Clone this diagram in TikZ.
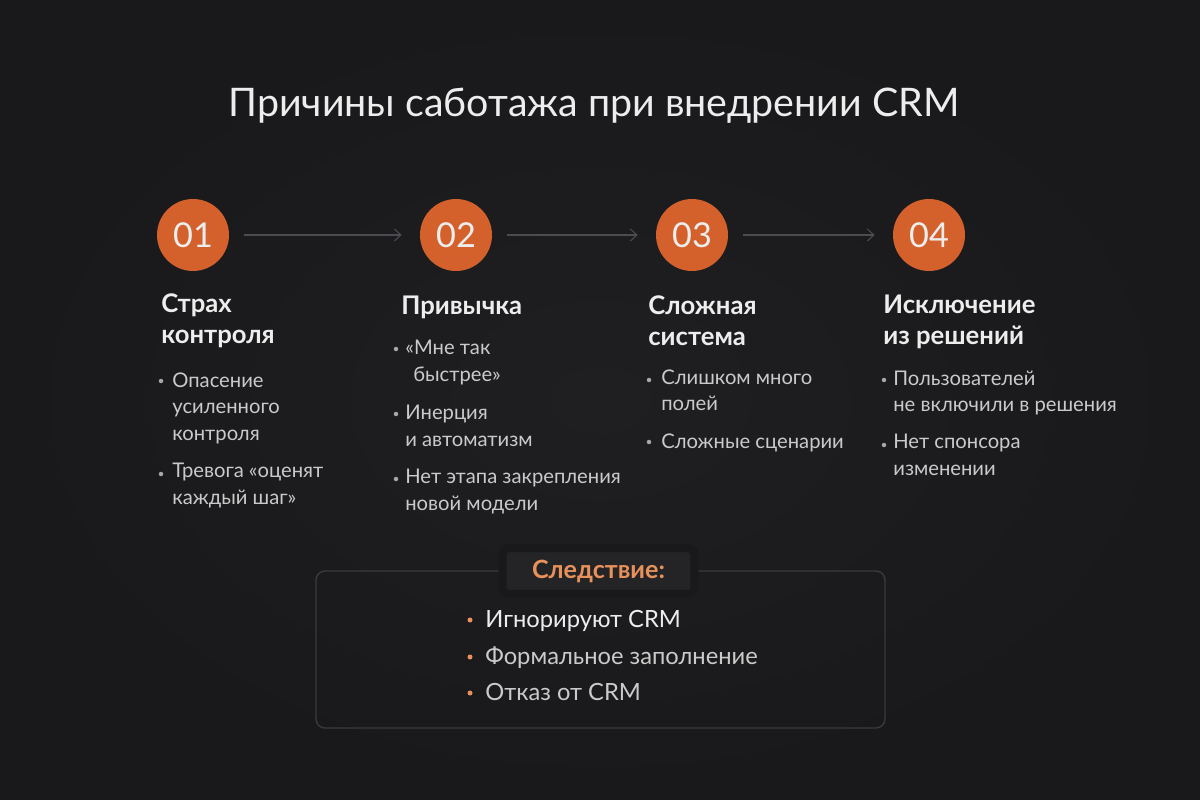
\documentclass[tikz,border=0pt]{standalone}
\usepackage{fontspec}
\setmainfont{Lato}
\usetikzlibrary{arrows.meta,positioning}
\definecolor{bgdark}{HTML}{19191B}
\definecolor{bgmid}{HTML}{1F1F22}
\definecolor{stepfill}{HTML}{D4612C}
\definecolor{linkgray}{HTML}{4C4C50}
\definecolor{headwhite}{HTML}{EDEDED}
\definecolor{bodygray}{HTML}{CACACA}
\definecolor{dotgray}{HTML}{A8A8A8}
\definecolor{frameline}{HTML}{3A3A3E}
\definecolor{tagfill}{HTML}{242427}
\definecolor{tagorange}{HTML}{E8915A}

\begin{document}
\begin{tikzpicture}[x=0.02cm,y=-0.02cm,>=Latex,
  numcircle/.style={circle,fill=stepfill,minimum size=1.44cm,inner sep=0pt,text=headwhite,font=\fontsize{19.5}{19.5}\selectfont},
  headtext/.style={anchor=base west,align=left,inner sep=0pt,text=headwhite,font=\fontsize{14.6}{18.1}\selectfont\bfseries},
  itemtext/.style={anchor=base west,align=left,inner sep=0pt,text=bodygray,font=\fontsize{11.5}{14.8}\selectfont},
  itemdot/.style={circle,fill=dotgray,minimum size=0.09cm,inner sep=0pt},
  restext/.style={anchor=base west,inner sep=0pt,text=bodygray,font=\fontsize{13.5}{15}\selectfont},
  resdot/.style={circle,fill=tagorange,minimum size=0.1cm,inner sep=0pt},
  link/.style={draw=linkgray,line width=0.6pt,-{Straight Barb[length=1.3mm,width=2.4mm]},shorten <=0.3cm,shorten >=0.36cm}]
% background
\useasboundingbox (0,0) rectangle (1200,800);
\fill[bgdark] (0,0) rectangle (1200,800);
\shade[inner color=bgmid,outer color=bgdark] (0,0) rectangle (1200,800);
% title
\node[anchor=base,inner sep=0pt,text=headwhite,font=\fontsize{22.4}{26}\selectfont] (title) at (594,117) {Причины саботажа при внедрении CRM};
% steps
\node[numcircle] (n1) at (193,235) {01};
\node[numcircle] (n2) at (456,235) {02};
\node[numcircle] (n3) at (692,235) {03};
\node[numcircle] (n4) at (929,235) {04};
\draw[link] (n1) -- (n2);
\draw[link] (n2) -- (n3);
\draw[link] (n3) -- (n4);
% column 1 (nodes sit on the baseline of their last line)
\node[headtext] (h1) at (161,344) {Страх\\контроля};
\node[itemdot] (d11) at (161,381) {};
\node[itemtext] (t11) at (172,440) {Опасение\\усиленного\\контроля};
\node[itemdot] (d12) at (161,474) {};
\node[itemtext] (t12) at (172,504) {Тревога «оценят\\каждый шаг»};
% column 2
\node[headtext] (h2) at (401,315) {Привычка};
\node[itemdot] (d21) at (396,349) {};
\node[itemtext] (t21) at (405,381) {«Мне так\\\hspace*{4.5pt}быстрее»};
\node[itemdot] (d22) at (396,414) {};
\node[itemtext] (t22) at (405,446) {Инерция\\и автоматизм};
\node[itemdot] (d23) at (396,479) {};
\node[itemtext] (t23) at (405,510) {Нет этапа закрепления\\новой модели};
% column 3
\node[headtext] (h3) at (648,346) {Сложная\\система};
\node[itemdot] (d31) at (649,380) {};
\node[itemtext] (t31) at (661,411) {Слишком много\\полей};
\node[itemdot] (d32) at (649,442) {};
\node[itemtext] (t32) at (661,448) {Сложные сценарии};
% column 4
\node[headtext] (h4) at (883,345) {Исключение\\из решений};
\node[itemdot] (d41) at (884,380) {};
\node[itemtext] (t41) at (893,412) {Пользователей\\не включили в решения};
\node[itemdot] (d42) at (884,445) {};
\node[itemtext] (t42) at (893,475) {Нет спонсора\\изменении};
% result box
\draw[frameline,line width=0.8pt,rounded corners=0.18cm] (316,571) rectangle (885,728);
\node[draw=bgdark,line width=0.16cm,fill=tagfill,rounded corners=0.14cm,minimum width=3.84cm,minimum height=0.92cm,text=tagorange,font=\fontsize{14.3}{16}\selectfont\bfseries] (tag) at (598.5,571) {Следствие:};
\node[resdot] (r1) at (470,620) {};
\node[restext,text=headwhite] (rt1) at (485,627) {Игнорируют CRM};
\node[resdot] (r2) at (470,657) {};
\node[restext] (rt2) at (485,664) {Формальное заполнение};
\node[resdot] (r3) at (470,693) {};
\node[restext] (rt3) at (485,700) {Отказ от CRM};
\end{tikzpicture}
\end{document}
